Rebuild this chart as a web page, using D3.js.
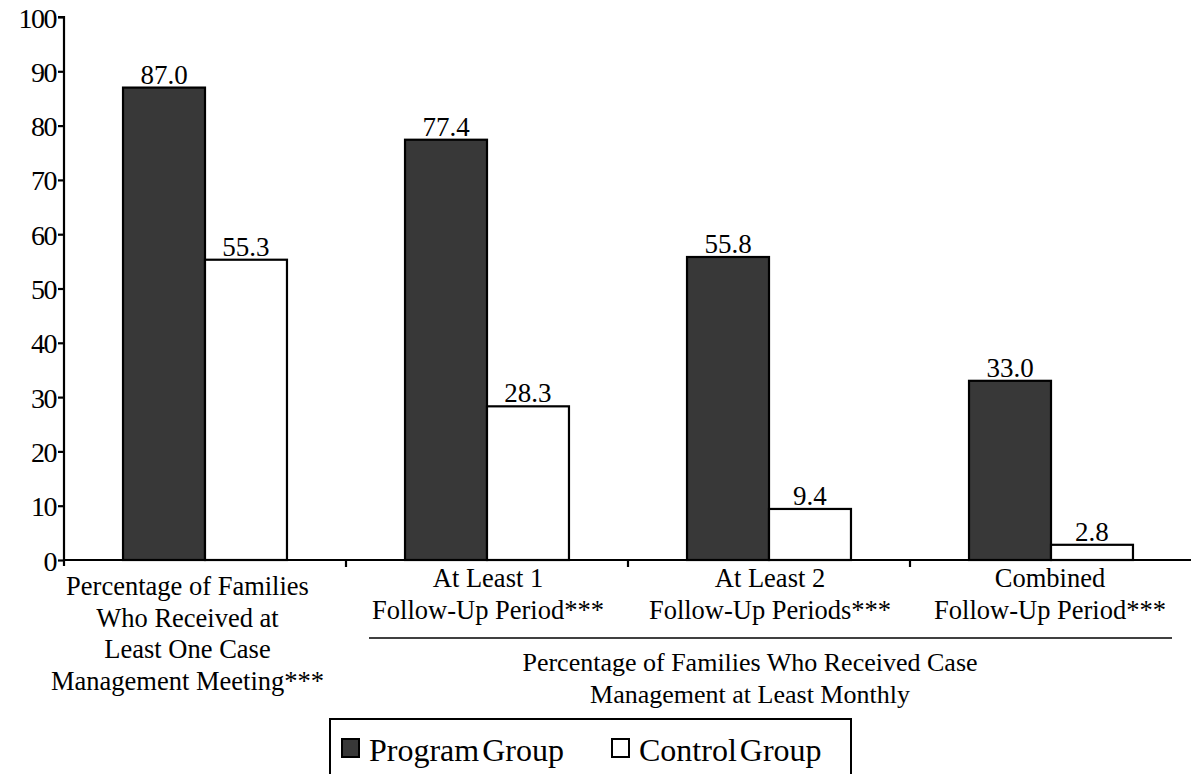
<!DOCTYPE html>
<html><head><meta charset="utf-8">
<script src="https://cdn.jsdelivr.net/npm/d3@7"></script>
</head><body style="margin:0;background:#fff">
<svg id="c" width="1191" height="774" style="display:block;font-family:Liberation Serif"></svg>
<script>
const categories = ["cat1","cat2","cat3","cat4"];
const categoryLabels = [
  ["Percentage of Families","Who Received at","Least One Case","Management Meeting***"],
  ["At Least 1","Follow-Up Period***"],
  ["At Least 2","Follow-Up Periods***"],
  ["Combined","Follow-Up Period***"]
];
const seriesNames = ["Program Group","Control Group"];
const programValues = [87.0, 77.4, 55.8, 33.0];
const controlValues = [55.3, 28.3, 9.4, 2.8];
const yTicks = [0,10,20,30,40,50,60,70,80,90,100];
const groupLabel = ["Percentage of Families Who Received Case","Management at Least Monthly"];

const FONT = "Liberation Serif";
const colors = {"Program Group":"#383838","Control Group":"#ffffff"};
const svg = d3.select("#c");
const pL = 64, pR = 1192, pT = 17, pB = 560;
const x0 = d3.scaleBand().domain(categories).range([pL,pR]).padding(0);
const x1 = d3.scaleBand().domain(seriesNames).range([0,x0.bandwidth()]).paddingInner(0).paddingOuter(0.72);
const y = d3.scaleLinear().domain([0,100]).range([pB,pT]);

const data = categories.map((c,i)=>({cat:c, vals:[{s:"Program Group",v:programValues[i]},{s:"Control Group",v:controlValues[i]}]}));

const g = svg.selectAll("g.grp").data(data).enter().append("g").attr("transform",d=>`translate(${x0(d.cat)},0)`);
g.selectAll("rect").data(d=>d.vals).enter().append("rect")
  .attr("x",d=>x1(d.s)).attr("width",x1.bandwidth())
  .attr("y",d=>y(d.v)).attr("height",d=>y(0)-y(d.v))
  .attr("fill",d=>colors[d.s]).attr("stroke","#000").attr("stroke-width",2.2);
g.selectAll("text.val").data(d=>d.vals).enter().append("text").attr("class","val")
  .attr("x",d=>x1(d.s)+x1.bandwidth()/2).attr("y",d=>y(d.v)-4)
  .attr("text-anchor","middle").style("font-family",FONT).style("font-size","27px").attr("fill","#000").text(d=>d.v.toFixed(1));

// y axis
const ya = svg.append("g").attr("transform",`translate(${pL},0)`)
  .call(d3.axisLeft(y).tickValues(yTicks).tickSize(6).tickPadding(2).tickFormat(d3.format("d")));
ya.select(".domain").attr("stroke","#000").attr("stroke-width",2.2).attr("d",`M-6,${pT}H0V${pB+6}`);
ya.selectAll(".tick line").attr("stroke","#000").attr("stroke-width",2.2);
ya.selectAll(".tick text").style("font-family",FONT).style("font-size","28px").attr("fill","#000").attr("dy","0.36em").style("letter-spacing","-1.5px");

// x axis
const xa = svg.append("g").attr("transform",`translate(0,${pB})`);
xa.append("line").attr("x1",pL).attr("x2",pR).attr("y1",0).attr("y2",0).attr("stroke","#000").attr("stroke-width",2.2);
const bounds = categories.map(c=>x0(c)).concat([pR]);
xa.selectAll("line.t").data(bounds.slice(1,4)).enter().append("line").attr("class","t")
  .attr("x1",d=>d).attr("x2",d=>d).attr("y1",0).attr("y2",7).attr("stroke","#000").attr("stroke-width",2.2);

// category labels
const lblY = [595,587,587,587];
const lblDx = [-17.5,1,1,-1];
categories.forEach((c,i)=>{
  const t = svg.append("text").attr("text-anchor","middle").style("font-family",FONT).style("font-size","26.5px").attr("fill","#000");
  categoryLabels[i].forEach((ln,j)=>{
    t.append("tspan").attr("x",x0(c)+x0.bandwidth()/2+lblDx[i]).attr("y",lblY[i]+j*31.6).text(ln);
  });
});
// group line and label
svg.append("line").attr("x1",369).attr("x2",1172).attr("y1",638).attr("y2",638).attr("stroke","#000").attr("stroke-width",1.6);
const gl = svg.append("text").attr("text-anchor","middle").style("font-family",FONT).style("font-size","26px").attr("fill","#000");
groupLabel.forEach((ln,j)=>gl.append("tspan").attr("x",750).attr("y",671+j*31.5).text(ln));

// legend
const lg = svg.append("g");
lg.append("rect").attr("x",330).attr("y",719).attr("width",521).attr("height",70).attr("fill","#fff").attr("stroke","#000").attr("stroke-width",2);
const lx = [342,612];
seriesNames.forEach((s,i)=>{
  lg.append("rect").attr("x",lx[i]).attr("y",739).attr("width",17).attr("height",18).attr("fill",colors[s]).attr("stroke","#000").attr("stroke-width",2);
  lg.append("text").attr("x",lx[i]+27).attr("y",761).style("font-family",FONT).style("font-size","32px").style("word-spacing","-5px").attr("fill","#000").text(s);
});
</script>
</body></html>
